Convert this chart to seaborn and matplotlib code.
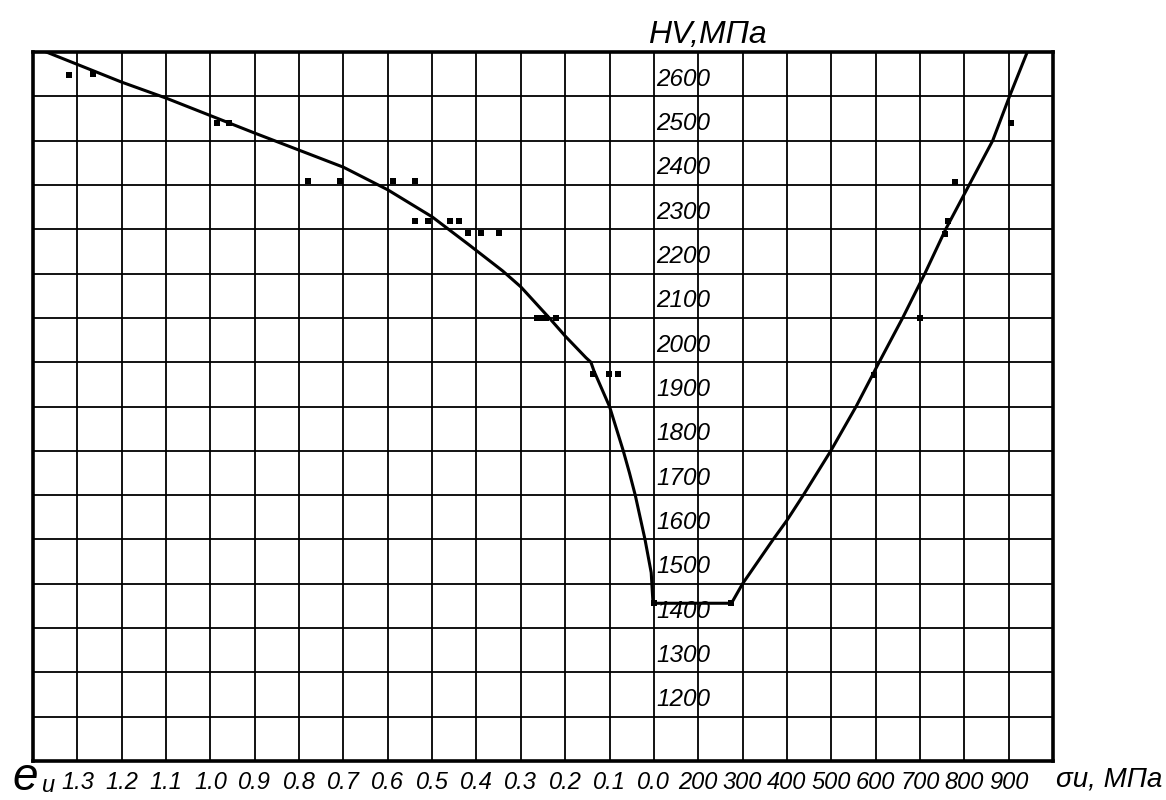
import numpy as np
import pandas as pd
import matplotlib
matplotlib.use("Agg")
import matplotlib.pyplot as plt
import seaborn as sns

# ---------------- data ----------------
# left branch: hardness HV (MPa) vs strain intensity e_u
strain_curve_e = [1.40, 1.20, 1.10, 0.90, 0.70, 0.60, 0.50, 0.417, 0.341, 0.30,
                  0.236, 0.20, 0.153, 0.142, 0.135, 0.10, 0.069, 0.055, 0.042,
                  0.020, 0.006, 0.002, 0.0]
strain_curve_hv = [2712, 2632, 2596, 2517, 2440, 2389, 2328, 2265, 2206, 2170,
                   2100, 2059, 2010, 2000, 1980, 1900, 1800, 1750, 1700,
                   1600, 1525, 1457, 1456]
# plateau between e=0 and sigma ~ 275 MPa
plateau_hv = 1456
plateau_end_s = 275
# right branch: hardness HV vs stress intensity sigma_u (MPa)
stress_curve_s = [275, 300, 369, 400, 437, 499, 556, 608, 661, 711, 758, 811, 864, 902, 942]
stress_curve_hv = [1456, 1500, 1600, 1643, 1700, 1800, 1900, 2000, 2100, 2200,
                   2300, 2400, 2500, 2600, 2700]

# measured points
strain_pts_e = [1.319, 1.265, 0.985, 0.958, 0.780, 0.708, 0.589, 0.539, 0.539, 0.510,
                0.460, 0.440, 0.419, 0.390, 0.349, 0.263, 0.252, 0.243, 0.220,
                0.138, 0.102, 0.080]
strain_pts_hv = [2648, 2650, 2540, 2540, 2409, 2409, 2409, 2409, 2319, 2319,
                 2319, 2319, 2292, 2292, 2292, 2100, 2100, 2100, 2100,
                 1974, 1974, 1974]
stress_pts_s = [905, 780, 764, 757, 700, 596]
stress_pts_hv = [2539, 2407, 2318, 2289, 2099, 1970]

# tick labels
e_tick_labels = ["1.3", "1.2", "1.1", "1.0", "0.9", "0.8", "0.7", "0.6", "0.5",
                 "0.4", "0.3", "0.2", "0.1", "0.0"]
s_tick_labels = ["200", "300", "400", "500", "600", "700", "800", "900"]
hv_tick_values = [1200, 1300, 1400, 1500, 1600, 1700, 1800, 1900, 2000,
                  2100, 2200, 2300, 2400, 2500, 2600]


# combined abscissa in grid units: strain to the left of 0, stress to the right
def pos_e(e):
    return -np.asarray(e, dtype=float) * 10.0


def pos_s(s):
    return np.asarray(s, dtype=float) / 100.0 - 1.0


curve = pd.DataFrame({
    "u": np.concatenate([pos_e(strain_curve_e), pos_s(stress_curve_s)]),
    "hv": np.concatenate([strain_curve_hv, stress_curve_hv]),
})
points = pd.DataFrame({
    "u": np.concatenate([pos_e(strain_pts_e), pos_s(stress_pts_s),
                         pos_e([0.0]), pos_s([plateau_end_s])]),
    "hv": np.concatenate([strain_pts_hv, stress_pts_hv, [plateau_hv, plateau_hv]]),
})

# ---------------- figure ----------------
sns.set_style("white")
FONT = ["Liberation Sans", "DejaVu Sans"]
plt.rcParams["font.family"] = FONT
plt.rcParams["text.color"] = "black"
plt.rcParams["xtick.color"] = "black"
plt.rcParams["ytick.color"] = "black"

fig = plt.figure(figsize=(11.66, 8.0), dpi=100)
ax = fig.add_axes([33 / 1166, 1 - 761 / 800, 1020 / 1166, 709 / 800])

sns.lineplot(data=curve, x="u", y="hv", sort=False, estimator=None,
             color="black", lw=2.2, ax=ax)
sns.scatterplot(data=points, x="u", y="hv", marker="s", s=18, color="black",
                edgecolor="black", linewidth=0, ax=ax, zorder=5)

ax.set_xlim(-14, 9)
ax.set_ylim(1100, 2700)
ax.set_xticks(np.arange(-14, 10))
xlabels = [""] + e_tick_labels + s_tick_labels + [""]
ax.set_xticklabels(xlabels, fontsize=17, fontstyle="italic", family=FONT, color="black")
ax.set_yticks(np.arange(1100, 2701, 100))
ax.set_yticklabels([])
ax.tick_params(axis="both", length=0, pad=7)
ax.grid(True, color="black", lw=1.3)
ax.set_axisbelow(True)
for sp in ax.spines.values():
    sp.set_visible(True)
    sp.set_color("black")
    sp.set_linewidth(2.6)
ax.set_xlabel("")
ax.set_ylabel("")

# hardness labels along the zero line
for v in hv_tick_values:
    ax.annotate(str(v), xy=(0, v), xytext=(1.5, 4), textcoords="offset points",
                ha="left", va="bottom", fontsize=17.5, fontstyle="italic",
                family=FONT, color="black")

# axis titles
fig.text(648 / 1166, 1 - 43 / 800, "HV,МПа", fontsize=23, fontstyle="italic",
         family=FONT, ha="left", va="baseline", color="black")
fig.text(1056 / 1166, 1 - 786 / 800, "σu, МПа", fontsize=20, fontstyle="italic",
         family=FONT, ha="left", va="baseline", color="black")
fig.text(12 / 1166, 10 / 800, "e", fontsize=33, fontstyle="italic",
         family=FONT, ha="left", va="baseline", color="black")
fig.text(42 / 1166, 8 / 800, "u", fontsize=17, fontstyle="italic",
         family=FONT, ha="left", va="baseline", color="black")

fig.savefig("out.png", dpi=100, facecolor="white")
